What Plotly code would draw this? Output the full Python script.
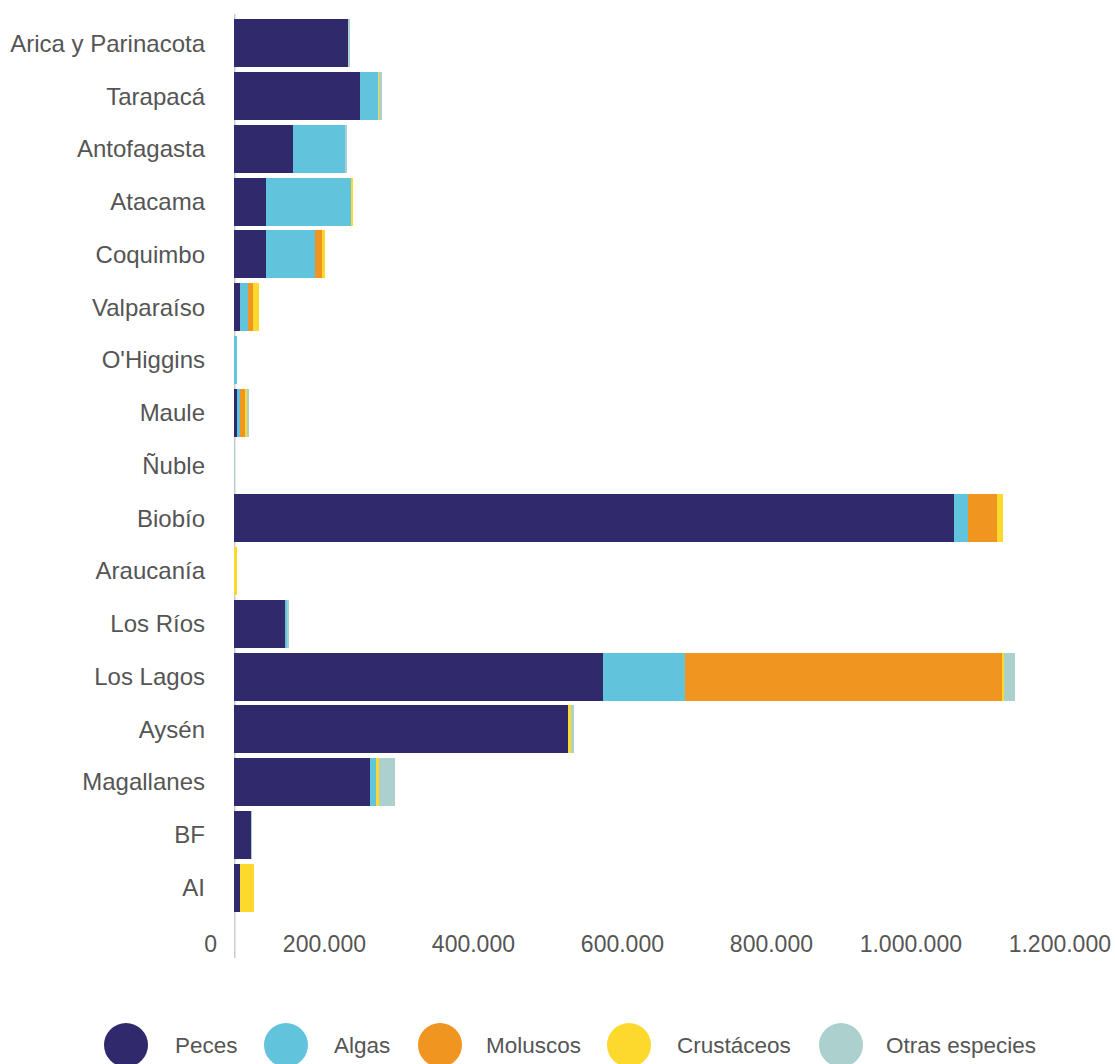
import plotly.graph_objects as go

# datos por región (toneladas)
regiones = ["Arica y Parinacota", "Tarapacá", "Antofagasta", "Atacama", "Coquimbo",
            "Valparaíso", "O'Higgins", "Maule", "Ñuble", "Biobío", "Araucanía",
            "Los Ríos", "Los Lagos", "Aysén", "Magallanes", "BF", "AI"]

peces = [154000, 169000, 79000, 43000, 43000, 8000, 300, 4000, 0, 966000, 0,
         68000, 495000, 448000, 183000, 23000, 8000]
algas = [0, 24600, 71000, 115000, 66000, 10700, 4000, 4000, 0, 18800, 0,
         4000, 111000, 0, 8000, 0, 0]
moluscos = [0, 0, 0, 0, 9000, 6700, 0, 6700, 0, 39000, 0,
            0, 425000, 0, 0, 0, 0]
crustaceos = [0, 1000, 0, 1000, 4400, 8000, 0, 4000, 500, 8000, 4000,
              0, 2700, 4000, 4000, 300, 19000]
otras = [500, 4000, 1000, 0, 0, 0, 0, 1000, 800, 0, 0,
         1000, 14800, 4000, 21500, 500, 0]

series_nombres = ["Peces", "Algas", "Moluscos", "Crustáceos", "Otras especies"]
series_colores = ["#30296B", "#62C3DD", "#F0951F", "#FDD92D", "#ABD0CE"]

tick_vals = [0, 200000, 400000, 600000, 800000, 1000000, 1200000]
tick_text = ["0", "200.000", "400.000", "600.000", "800.000", "1.000.000", "1.200.000"]

FONT = "Liberation Sans, Arial, sans-serif"
GRIS = "#555555"

# geometría en pixeles (sin margen en el body)
W, H = 1115, 1064
L = 200
T = 17
B = H - 914
PW = W - L
PH = H - T - B
X0_PX = 234              # donde está el 0 de las barras
PX_POR_UNIDAD = 0.000745
LABEL_SHIFT = 17         # etiquetas alineadas a la derecha, corridas a la izquierda


def px_a_papel_x(px):
    return (px - L) / PW


def px_a_papel_y(py):
    return (T + PH - py) / PH


fig = go.Figure()
for nombre, valores, color in zip(series_nombres, [peces, algas, moluscos, crustaceos, otras], series_colores):
    fig.add_trace(go.Bar(
        y=regiones, x=valores, name=nombre, orientation="h",
        marker=dict(color=color, line=dict(width=0)),
        showlegend=False,
    ))

# traza vacía para que se dibuje el eje de etiquetas
fig.add_trace(go.Scatter(x=[tick_vals[0]], y=[regiones[0]], xaxis="x2", yaxis="y",
                         mode="none", hoverinfo="skip", showlegend=False))

# rango del eje de barras y del eje de etiquetas
x_max = (W - X0_PX) / PX_POR_UNIDAD
lab_min = -(X0_PX - LABEL_SHIFT - L) / PX_POR_UNIDAD
lab_max = (W - (X0_PX - LABEL_SHIFT)) / PX_POR_UNIDAD

fig.update_layout(
    width=W, height=H,
    margin=dict(l=L, r=0, t=T, b=B, pad=0),
    barmode="stack",
    bargap=0.09,
    plot_bgcolor="rgba(0,0,0,0)",
    paper_bgcolor="white",
    font=dict(family=FONT, size=22, color=GRIS),
    xaxis=dict(
        domain=[(X0_PX - L) / PW, 1],
        range=[0, x_max],
        showgrid=False, zeroline=False, showline=False,
        showticklabels=False, ticks="",
    ),
    xaxis2=dict(
        domain=[0, 1],
        anchor="y",
        range=[lab_min, lab_max],
        tickvals=tick_vals, ticktext=tick_text,
        ticklabelposition="outside left",
        ticklabelstandoff=14,
        showgrid=False, zeroline=False, showline=False, ticks="",
        tickfont=dict(family=FONT, size=23, color=GRIS),
    ),
    yaxis=dict(
        range=[len(regiones) - 0.5, -0.5],
        showgrid=False, zeroline=False, showline=False, ticks="",
        ticklabelstandoff=28,
        tickfont=dict(family=FONT, size=24, color=GRIS),
    ),
)

# eje vertical gris
fig.add_shape(type="line", xref="x", yref="paper", x0=0, x1=0,
              y0=px_a_papel_y(958), y1=px_a_papel_y(14),
              line=dict(color="#CCCCCC", width=3), layer="below")

# leyenda con círculos grandes
leyenda_circulo_px = [126, 286, 440, 629, 841]
leyenda_texto_px = [173, 332, 484, 675, 884]
ley_y = px_a_papel_y(1045)
for nombre, color, cx, tx in zip(series_nombres, series_colores, leyenda_circulo_px, leyenda_texto_px):
    fig.add_shape(type="circle", xref="paper", yref="paper",
                  xsizemode="pixel", ysizemode="pixel",
                  xanchor=px_a_papel_x(cx), yanchor=ley_y,
                  x0=-22, x1=22, y0=-22, y1=22,
                  fillcolor=color, line=dict(width=0))
    fig.add_annotation(text=nombre, xref="paper", yref="paper",
                       x=px_a_papel_x(tx), y=ley_y, xanchor="left", yanchor="middle",
                       showarrow=False, font=dict(family=FONT, size=22.5, color=GRIS))

fig.write_html("out.html",
               config={"displayModeBar": False},
               post_script="document.body.style.margin='0';document.body.style.overflow='hidden';")
